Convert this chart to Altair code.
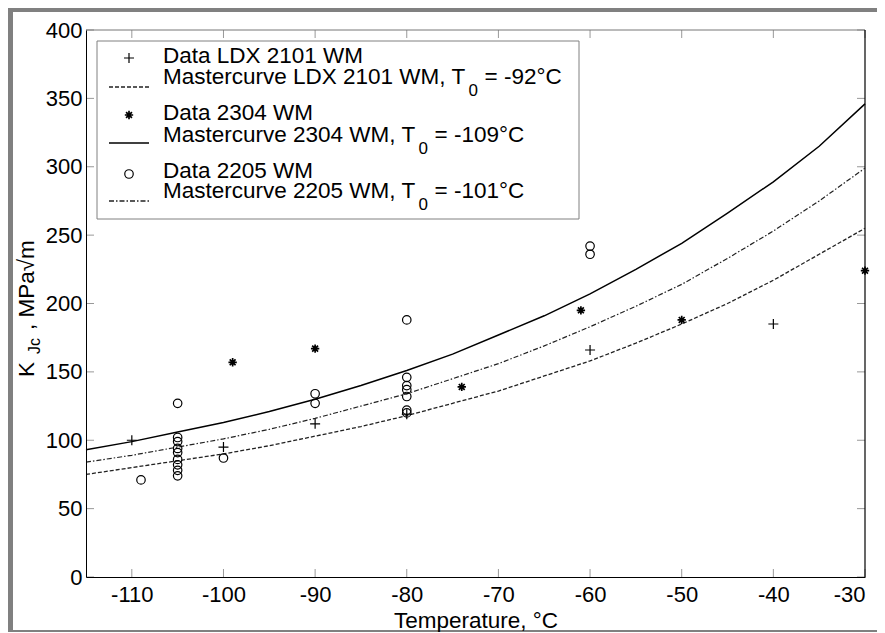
import altair as alt
import pandas as pd

# ---------------- data ----------------
curve_T = [-115, -110, -105, -100, -95, -90, -85, -80, -75, -70, -65, -60, -55, -50, -45, -40, -35, -30]
curve_ldx = [75, 80, 85, 90, 96, 103, 110, 118, 127, 136, 147, 158, 171, 185, 200, 217, 236, 255]
curve_2304 = [93, 99, 106, 113, 121, 130, 140, 151, 163, 177, 191, 207, 225, 244, 266, 289, 315, 346]
curve_2205 = [84, 89, 95, 101, 108, 116, 125, 134, 145, 156, 169, 183, 198, 214, 233, 253, 275, 299]

ldx_T = [-110, -100, -90, -80, -60, -40]
ldx_K = [100, 95, 112, 119, 166, 185]
d2304_T = [-99, -90, -74, -61, -50, -30]
d2304_K = [157, 167, 139, 195, 188, 224]
d2205_T = [-109, -105, -105, -105, -105, -105, -105, -105, -105, -105, -100, -90, -90,
           -80, -80, -80, -80, -80, -80, -80, -60, -60]
d2205_K = [71, 127, 102, 99, 94, 91, 86, 82, 78, 74, 87, 134, 127,
           188, 146, 140, 137, 132, 122, 120, 242, 236]

x_ticks = [-110, -100, -90, -80, -70, -60, -50, -40, -30]
y_ticks = [0, 50, 100, 150, 200, 250, 300, 350, 400]

legend_data = ["Data LDX 2101 WM", "Data 2304 WM", "Data 2205 WM"]
legend_curve = ["Mastercurve LDX 2101 WM, T", "Mastercurve 2304 WM, T", "Mastercurve 2205 WM, T"]
legend_t0 = ["= -92°C", "= -109°C", "= -101°C"]

# ---------------- layout ----------------
FONT = "Liberation Sans"
W, H = 779, 547
FS = 22
FSL = 22.5
PAD_L, PAD_T, PAD_R, PAD_B = 78, 22, 12, 55

AW = {' ': .278, ',': .278, '-': .333, '.': .278, '=': .584, '°': .4, 'C': .722, 'D': .722,
      'K': .667, 'L': .556, 'M': .833, 'P': .667, 'T': .611, 'W': .944, 'X': .667, 'a': .556,
      'c': .5, 'e': .556, 'm': .833, 'r': .333, 's': .5, 't': .278, 'u': .556, 'v': .5}


def tw(s, fs):
    return sum(AW.get(ch, .556) for ch in s) * fs


xs = alt.Scale(domain=[-115, -30], nice=False, zero=False)
ys = alt.Scale(domain=[0, 400], nice=False, zero=False)

x_axis = alt.Axis(values=x_ticks, ticks=False, grid=False, labelFont=FONT, labelFontSize=FS,
                  labelColor="black", labelPadding=7, labelExpr="'' + datum.value",
                  domainColor="black", domainWidth=1, title="Temperature, °C",
                  titleFont=FONT, titleFontSize=FSL, titleFontWeight="normal",
                  titleColor="black", titlePadding=4, zindex=1)
y_axis = alt.Axis(values=y_ticks, ticks=False, grid=False, labelFont=FONT, labelFontSize=FS,
                  labelColor="black", labelPadding=4, labelExpr="'' + datum.value",
                  domainColor="black", domainWidth=1, title=None, zindex=1)


def X(field):
    return alt.X(field, type="quantitative", scale=xs, axis=x_axis)


def Y(field):
    return alt.Y(field, type="quantitative", scale=ys, axis=y_axis)


one = pd.DataFrame({"a": [0]})

# grey scan frame (left, top, bottom bands)
GREY = "#808080"
f_left = alt.Chart(one).mark_rect(fill=GREY).encode(
    x=alt.value(-PAD_L), x2=alt.value(-73), y=alt.value(-PAD_T), y2=alt.value(H + PAD_B))
f_top = alt.Chart(one).mark_rect(fill=GREY).encode(
    x=alt.value(-PAD_L), x2=alt.value(W + PAD_R), y=alt.value(-PAD_T), y2=alt.value(-18))
f_bot = alt.Chart(one).mark_rect(fill=GREY).encode(
    x=alt.value(-PAD_L), x2=alt.value(W + PAD_R), y=alt.value(600), y2=alt.value(H + PAD_B))

# inward ticks
xt = pd.DataFrame({"T": x_ticks})
yt = pd.DataFrame({"K": y_ticks})
tick_style = dict(color="#999999", strokeWidth=1)
t_bottom = alt.Chart(xt).mark_rule(**tick_style).encode(x=X("T"), y=alt.value(H), y2=alt.value(H - 8))
t_top = alt.Chart(xt).mark_rule(**tick_style).encode(x=X("T"), y=alt.value(0), y2=alt.value(8))
t_left = alt.Chart(yt).mark_rule(**tick_style).encode(y=Y("K"), x=alt.value(0), x2=alt.value(8))
t_right = alt.Chart(yt).mark_rule(**tick_style).encode(y=Y("K"), x=alt.value(W), x2=alt.value(W - 8))

frame_top = alt.Chart(one).mark_rule(color="#777777", strokeWidth=1).encode(
    x=alt.value(0), x2=alt.value(W), y=alt.value(0))
frame_right = alt.Chart(one).mark_rule(color="black", strokeWidth=1.2).encode(
    x=alt.value(W), y=alt.value(0), y2=alt.value(H))

# curves
cdf = pd.DataFrame({"T": curve_T, "ldx": curve_ldx, "s2304": curve_2304, "s2205": curve_2205})
c_ldx = alt.Chart(cdf).mark_line(color="#222222", strokeWidth=1.3, strokeDash=[4, 2]).encode(
    x=X("T"), y=Y("ldx"))
c_2304 = alt.Chart(cdf).mark_line(color="black", strokeWidth=1.5).encode(x=X("T"), y=Y("s2304"))
c_2205 = alt.Chart(cdf).mark_line(color="#222222", strokeWidth=1.2, strokeDash=[5, 2, 1.5, 2]).encode(
    x=X("T"), y=Y("s2205"))

PLUS = "M-1,0L1,0M0,-1L0,1"
STAR = "M-1,0L1,0M0,-1L0,1M-0.7,-0.7L0.7,0.7M-0.7,0.7L0.7,-0.7"

p_ldx = alt.Chart(pd.DataFrame({"T": ldx_T, "K": ldx_K})).mark_point(
    shape=PLUS, size=100, filled=False, color="black", strokeWidth=1.2, opacity=1).encode(
    x=X("T"), y=Y("K"))
p_2304 = alt.Chart(pd.DataFrame({"T": d2304_T, "K": d2304_K})).mark_point(
    shape=STAR, size=70, filled=False, color="black", strokeWidth=1.7, opacity=1).encode(
    x=X("T"), y=Y("K"))
p_2205 = alt.Chart(pd.DataFrame({"T": d2205_T, "K": d2205_K})).mark_point(
    shape="circle", size=72, filled=False, color="black", strokeWidth=1.2, opacity=1).encode(
    x=X("T"), y=Y("K"))

# ---------------- legend (drawn by hand, MATLAB style) ----------------
LX0, LX1, LY0, LY1 = 11, 493, 11, 189
leg_box = alt.Chart(one).mark_rect(fill="white", stroke="#808080", strokeWidth=1).encode(
    x=alt.value(LX0), x2=alt.value(LX1), y=alt.value(LY0), y2=alt.value(LY1))

sym_y = [28, 85, 144]
line_y = [57, 113, 171]
data_base = [33, 90, 148]
curve_base = [54, 111.5, 168]
TX = 77
SYM_X = 43

leg_layers = []
shapes = [(PLUS, 100, 1.2), (STAR, 70, 1.7), ("circle", 72, 1.2)]
dashes = [[4, 2], None, [5, 2, 1.5, 2]]
for i in range(3):
    shp, sz, sw = shapes[i]
    leg_layers.append(alt.Chart(one).mark_point(shape=shp, size=sz, filled=False, color="black",
                                                strokeWidth=sw, opacity=1).encode(
        x=alt.value(SYM_X), y=alt.value(sym_y[i])))
    lkw = dict(color="black", strokeWidth=1.4)
    if dashes[i] is not None:
        lkw = dict(color="#222222", strokeWidth=1.3, strokeDash=dashes[i])
    leg_layers.append(alt.Chart(one).mark_rule(**lkw).encode(
        x=alt.value(23), x2=alt.value(63), y=alt.value(line_y[i])))
    leg_layers.append(alt.Chart(one).mark_text(
        text=legend_data[i], font=FONT, fontSize=FSL, align="left", baseline="alphabetic",
        color="black").encode(x=alt.value(TX), y=alt.value(data_base[i])))
    w1 = tw(legend_curve[i], FSL)
    sub_x = TX + w1 + 3
    leg_layers.append(alt.Chart(one).mark_text(
        text=legend_curve[i], font=FONT, fontSize=FSL, align="left", baseline="alphabetic",
        color="black").encode(x=alt.value(TX), y=alt.value(curve_base[i])))
    leg_layers.append(alt.Chart(one).mark_text(
        text="0", font=FONT, fontSize=17, align="left", baseline="alphabetic",
        color="black").encode(x=alt.value(sub_x), y=alt.value(curve_base[i] + 12)))
    leg_layers.append(alt.Chart(one).mark_text(
        text=legend_t0[i], font=FONT, fontSize=FSL, align="left", baseline="alphabetic",
        color="black").encode(x=alt.value(sub_x + 9.5 + 6.5), y=alt.value(curve_base[i])))

# ---------------- y axis title  K_Jc, MPa√m ----------------
yt_K = alt.Chart(one).mark_text(text="K", font=FONT, fontSize=FSL, angle=270, align="left",
                                baseline="alphabetic", color="black").encode(
    x=alt.value(-52), y=alt.value(347))
yt_sub = alt.Chart(one).mark_text(text="Jc", font=FONT, fontSize=16, angle=270, align="left",
                                  baseline="alphabetic", color="black").encode(
    x=alt.value(-46), y=alt.value(324))
yt_rest = alt.Chart(one).mark_text(text=", MPa√m", font=FONT, fontSize=FSL, angle=270,
                                   align="left", baseline="alphabetic", color="black").encode(
    x=alt.value(-52), y=alt.value(300))

chart = alt.layer(
    f_left, f_top, f_bot, t_bottom, t_top, t_left, t_right, frame_top, frame_right,
    c_ldx, c_2304, c_2205, p_ldx, p_2304, p_2205,
    leg_box, *leg_layers, yt_K, yt_sub, yt_rest
).properties(
    width=W, height=H,
    padding={"left": PAD_L, "top": PAD_T, "right": PAD_R, "bottom": PAD_B},
    autosize=alt.AutoSizeParams(type="none"),
    background="white",
).configure_view(stroke=None)

chart.save("out.html", embed_options={"renderer": "svg", "actions": False})
